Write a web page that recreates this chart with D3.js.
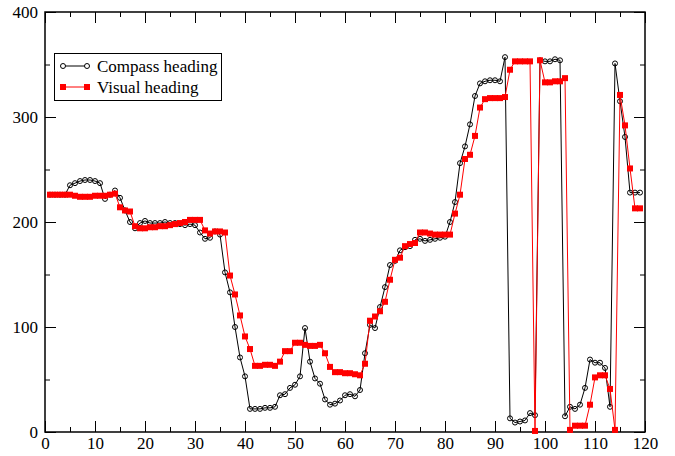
<!DOCTYPE html>
<html>
<head>
<meta charset="utf-8">
<script src="https://cdn.jsdelivr.net/npm/d3@7"></script>
<style>
  body { margin: 0; background: #fff; }
</style>
</head>
<body>
<div id="chart"></div>
<script>
// sample index (1..119)
const samples = d3.range(1, 120);

const compassHeading = [
  226, 226, 226, 226, 235, 237, 239, 240, 240, 239,
  237, 222, 226, 230, 223, 211, 200, 194, 199, 201,
  199, 199, 199, 200, 199, 199, 198, 197, 198, 197,
  190, 184, 185, 191, 188, 152, 133, 100, 71, 53,
  22, 22, 22, 23, 23, 24, 35, 36, 42, 45,
  53, 99, 67, 51, 46, 31, 26, 27, 30, 35,
  36, 34, 40, 75, 102, 99, 119, 138, 159, 163,
  173, 176, 177, 183, 184, 182, 183, 184, 185, 186,
  200, 219, 256, 272, 293, 320, 332, 334, 335, 335,
  334, 357, 13, 9, 10, 11, 18, 16, 354, 353,
  353, 355, 354, 15, 24, 22, 26, 42, 69, 66,
  66, 61, 24, 351, 315, 281, 228, 228, 228
];

const visualHeading = [
  226, 226, 226, 226, 226, 225, 224, 224, 224, 225,
  225, 225, 226, 227, 214, 211, 210, 196, 194, 194,
  195, 195, 196, 196, 197, 198, 199, 200, 202, 202,
  202, 192, 189, 191, 191, 190, 149, 131, 111, 91,
  79, 63, 63, 64, 64, 63, 67, 77, 77, 85,
  85, 83, 82, 82, 83, 75, 62, 57, 57, 56,
  56, 55, 54, 65, 106, 110, 115, 124, 145, 164,
  166, 177, 179, 180, 190, 190, 189, 188, 188, 188,
  188, 208, 226, 260, 264, 282, 309, 317, 318, 318,
  318, 319, 345, 353, 353, 353, 353, 1, 354, 333,
  333, 334, 334, 337, 2, 6, 6, 6, 26, 52,
  54, 54, 41, 2, 321, 292, 251, 213, 213
];

const seriesNames = ["Compass heading", "Visual heading"];
const xMajorTicks = d3.range(0, 121, 10);
const xMinorTicks = d3.range(5, 120, 10);
const yMajorTicks = d3.range(0, 401, 100);
const yMinorTicks = d3.range(50, 400, 100);

const FONT = "'Liberation Serif', 'Times New Roman', Times, serif";

const width = 675;
const height = 456;
const margin = { top: 12, right: 30, bottom: 24, left: 45 };

const svg = d3.select("#chart")
  .append("svg")
  .attr("width", width)
  .attr("height", height)
  .attr("font-family", FONT);

svg.append("rect")
  .attr("width", width)
  .attr("height", height)
  .attr("fill", "#fff");

const x = d3.scaleLinear()
  .domain([0, 120])
  .range([margin.left, width - margin.right]);

const y = d3.scaleLinear()
  .domain([0, 400])
  .range([height - margin.bottom, margin.top]);

/* ---------------- AXES ---------------- */

function styleAxis(g) {
  g.attr("font-family", FONT).attr("font-size", 17);
  g.select(".domain").remove();
  g.selectAll("line").attr("stroke", "#000").attr("stroke-width", 1);
  g.selectAll("text").attr("fill", "#000");
}

const plotBottom = height - margin.bottom;
const plotTop = margin.top;
const plotLeft = margin.left;
const plotRight = width - margin.right;

// bottom
svg.append("g")
  .attr("transform", `translate(0,${plotBottom})`)
  .call(d3.axisBottom(x).tickValues(xMajorTicks).tickSize(-11).tickPadding(5))
  .call(styleAxis);
svg.append("g")
  .attr("transform", `translate(0,${plotBottom})`)
  .call(d3.axisBottom(x).tickValues(xMinorTicks).tickSize(-5).tickFormat(""))
  .call(styleAxis);
// top (mirror)
svg.append("g")
  .attr("transform", `translate(0,${plotTop})`)
  .call(d3.axisTop(x).tickValues(xMajorTicks).tickSize(-11).tickFormat(""))
  .call(styleAxis);
svg.append("g")
  .attr("transform", `translate(0,${plotTop})`)
  .call(d3.axisTop(x).tickValues(xMinorTicks).tickSize(-5).tickFormat(""))
  .call(styleAxis);
// left
svg.append("g")
  .attr("transform", `translate(${plotLeft},0)`)
  .call(d3.axisLeft(y).tickValues(yMajorTicks).tickSize(-11).tickPadding(7))
  .call(styleAxis);
svg.append("g")
  .attr("transform", `translate(${plotLeft},0)`)
  .call(d3.axisLeft(y).tickValues(yMinorTicks).tickSize(-5).tickFormat(""))
  .call(styleAxis);
// right (mirror)
svg.append("g")
  .attr("transform", `translate(${plotRight},0)`)
  .call(d3.axisRight(y).tickValues(yMajorTicks).tickSize(-11).tickFormat(""))
  .call(styleAxis);
svg.append("g")
  .attr("transform", `translate(${plotRight},0)`)
  .call(d3.axisRight(y).tickValues(yMinorTicks).tickSize(-5).tickFormat(""))
  .call(styleAxis);

svg.append("rect")
  .attr("x", plotLeft)
  .attr("y", plotTop)
  .attr("width", plotRight - plotLeft)
  .attr("height", plotBottom - plotTop)
  .attr("fill", "none")
  .attr("stroke", "#000")
  .attr("stroke-width", 1.5);

/* ---------------- SERIES ---------------- */

const compass = samples.map((s, i) => ({ s, v: compassHeading[i] }));
const visual = samples.map((s, i) => ({ s, v: visualHeading[i] }));

const line = d3.line()
  .x(d => x(d.s))
  .y(d => y(d.v));

svg.append("path")
  .datum(compass)
  .attr("fill", "none")
  .attr("stroke", "#000")
  .attr("stroke-width", 1)
  .attr("d", line);

svg.append("g")
  .selectAll("circle")
  .data(compass)
  .join("circle")
  .attr("cx", d => x(d.s))
  .attr("cy", d => y(d.v))
  .attr("r", 2.5)
  .attr("fill", "none")
  .attr("stroke", "#000")
  .attr("stroke-width", 1);

svg.append("path")
  .datum(visual)
  .attr("fill", "none")
  .attr("stroke", "#ff0000")
  .attr("stroke-width", 1)
  .attr("d", line);

svg.append("g")
  .selectAll("rect")
  .data(visual)
  .join("rect")
  .attr("x", d => x(d.s) - 3)
  .attr("y", d => y(d.v) - 3)
  .attr("width", 6)
  .attr("height", 6)
  .attr("fill", "#ff0000");

/* ---------------- LEGEND ---------------- */

const legend = svg.append("g");

legend.append("rect")
  .attr("x", 54.5)
  .attr("y", 53.5)
  .attr("width", 167)
  .attr("height", 47)
  .attr("fill", "#fff")
  .attr("stroke", "#000")
  .attr("stroke-width", 1);

const rowY = [66, 87];

// compass entry
legend.append("line")
  .attr("x1", 63).attr("x2", 87)
  .attr("y1", rowY[0]).attr("y2", rowY[0])
  .attr("stroke", "#000");
legend.selectAll("circle")
  .data([63, 87])
  .join("circle")
  .attr("cx", d => d)
  .attr("cy", rowY[0])
  .attr("r", 2.5)
  .attr("fill", "#fff")
  .attr("stroke", "#000");

// visual entry
legend.append("line")
  .attr("x1", 63).attr("x2", 87)
  .attr("y1", rowY[1]).attr("y2", rowY[1])
  .attr("stroke", "#ff0000");
legend.selectAll("rect.mk")
  .data([63, 87])
  .join("rect")
  .attr("class", "mk")
  .attr("x", d => d - 3)
  .attr("y", rowY[1] - 3)
  .attr("width", 6)
  .attr("height", 6)
  .attr("fill", "#ff0000");

legend.selectAll("text")
  .data(seriesNames)
  .join("text")
  .attr("x", 97)
  .attr("y", (d, i) => rowY[i])
  .attr("dy", "0.35em")
  .attr("font-size", 17)
  .attr("fill", "#000")
  .text(d => d);
</script>
</body>
</html>
